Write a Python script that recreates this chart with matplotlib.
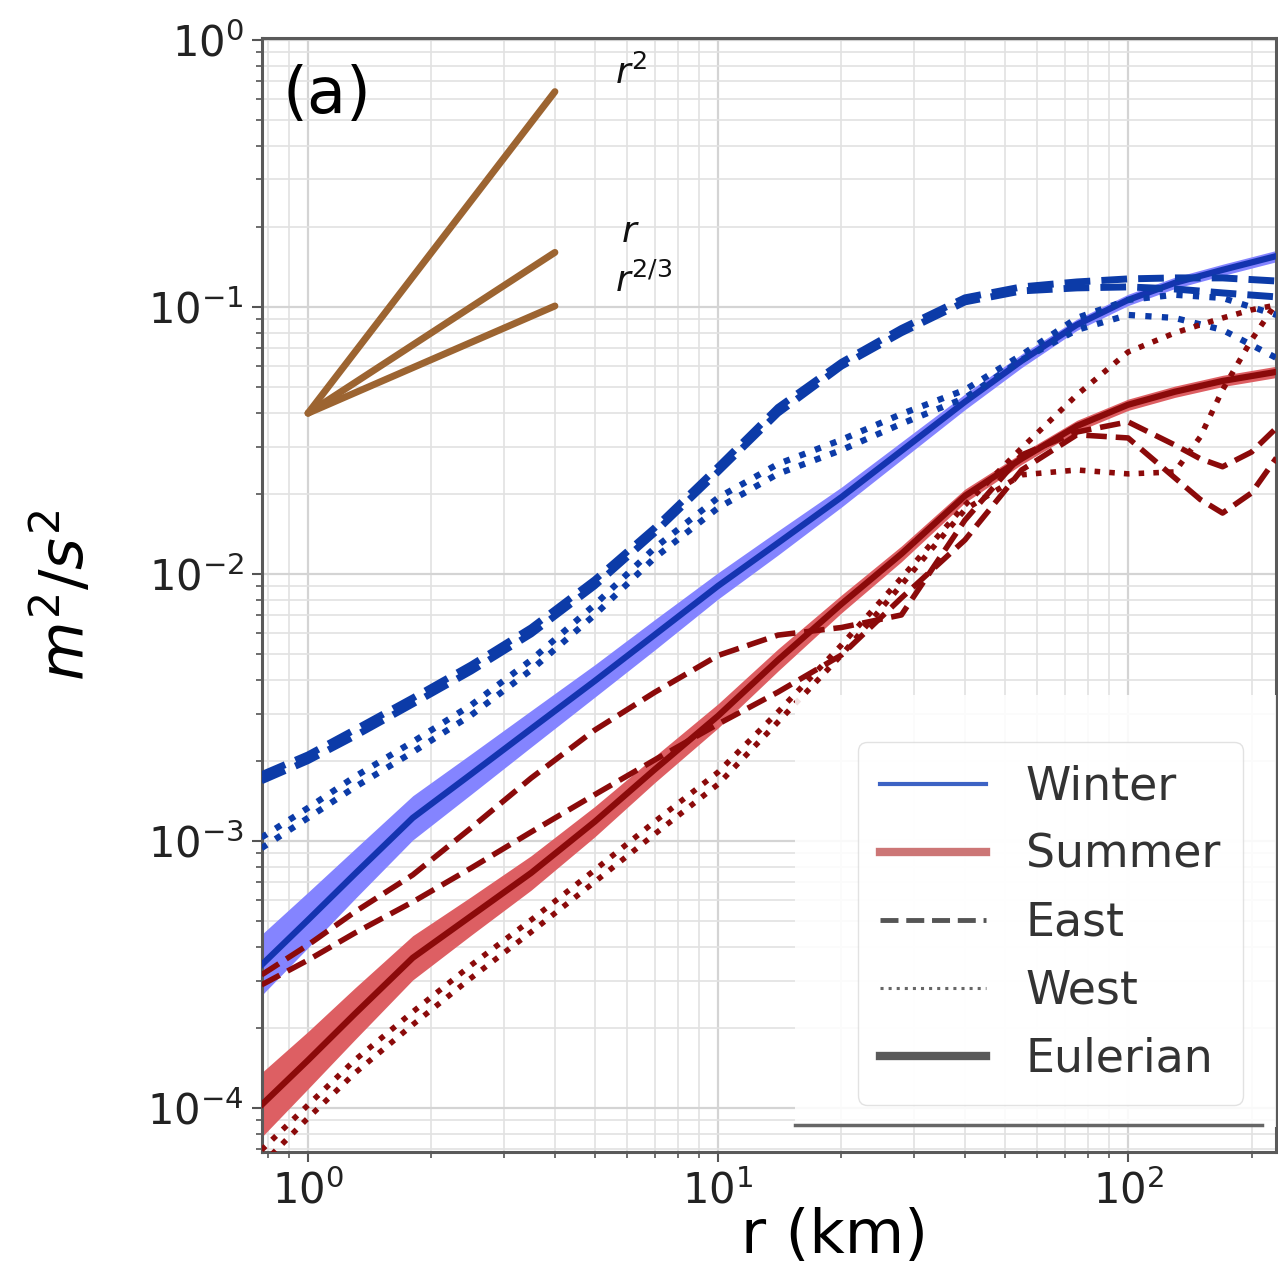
import numpy as np
import matplotlib
matplotlib.use("Agg")
import matplotlib.pyplot as plt
from matplotlib.lines import Line2D
from matplotlib.patches import Rectangle
from matplotlib.ticker import LogLocator, NullFormatter

#-----------------------------------------------------#
#                   DATA                              #
#-----------------------------------------------------#

# separation r (km)
r = [0.77, 1.0, 1.3, 1.8, 2.5, 3.5, 5, 7, 10, 14, 20, 28, 40, 55, 75, 100, 130, 170, 230]
r_red = [0.77, 1.0, 1.3, 1.8, 2.5, 3.5, 5, 7, 10, 14, 20, 28, 40, 55, 75, 100, 130, 150, 170, 200, 230]

# Winter (blue)
winter_eul = [3.43e-4, 5.06e-4, 7.52e-4, 1.22e-3, 1.78e-3, 2.63e-3, 3.97e-3, 5.91e-3, 9.02e-3,
              0.01306, 0.0194, 0.0289, 0.0441, 0.0628, 0.0857, 0.1062, 0.123, 0.1376, 0.155]
winter_band = [1.30, 1.27, 1.24, 1.21, 1.19, 1.17, 1.15, 1.14, 1.12, 1.11,
               1.09, 1.08, 1.07, 1.06, 1.05, 1.05, 1.05, 1.05, 1.05]
winter_east_a = [1.77e-3, 2.10e-3, 2.61e-3, 3.43e-3, 4.56e-3, 6.28e-3, 9.50e-3, 0.01487, 0.0252,
                 0.0420, 0.0620, 0.0830, 0.1081, 0.1188, 0.124, 0.1273, 0.1284, 0.1284, 0.125]
winter_east_b = [1.68e-3, 2.0e-3, 2.47e-3, 3.26e-3, 4.33e-3, 5.96e-3, 9.02e-3, 0.01425, 0.0241,
                 0.0400, 0.0600, 0.0800, 0.1044, 0.1148, 0.1178, 0.1188, 0.1167, 0.1128, 0.109]
winter_west_a = [1.03e-3, 1.33e-3, 1.74e-3, 2.35e-3, 3.23e-3, 4.76e-3, 7.66e-3, 0.0125, 0.0193,
                 0.0258, 0.0318, 0.0397, 0.0489, 0.0661, 0.0909, 0.1062, 0.111, 0.108, 0.0933]
winter_west_b = [9.4e-4, 1.22e-3, 1.59e-3, 2.15e-3, 2.96e-3, 4.37e-3, 7.02e-3, 0.01148, 0.01767,
                 0.0237, 0.0291, 0.0365, 0.0456, 0.0633, 0.0820, 0.0933, 0.0909, 0.0820, 0.0644]

# Summer (red)
summer_eul = [1.026e-4, 1.51e-4, 2.25e-4, 3.65e-4, 5.24e-4, 7.59e-4, 1.18e-3, 1.85e-3, 2.94e-3,
              4.76e-3, 7.72e-3, 0.01189, 0.0196, 0.0270, 0.0358, 0.0430, 0.0481, 0.0528, 0.0571]
summer_band = [1.32, 1.28, 1.25, 1.21, 1.18, 1.16, 1.14, 1.12, 1.11, 1.10,
               1.08, 1.07, 1.06, 1.05, 1.05, 1.05, 1.05, 1.05, 1.05]
summer_east_a = [3.15e-4, 4.08e-4, 5.42e-4, 7.46e-4, 1.12e-3, 1.72e-3, 2.60e-3, 3.60e-3, 4.95e-3,
                 5.90e-3, 6.30e-3, 7.02e-3, 0.0159, 0.0279, 0.0340, 0.0371, 0.0304, 0.0270, 0.0252,
                 0.0286, 0.0352]
summer_east_b = [2.89e-4, 3.58e-4, 4.52e-4, 5.91e-4, 7.92e-4, 1.08e-3, 1.49e-3, 2.01e-3, 2.74e-3,
                 3.61e-3, 4.97e-3, 8.13e-3, 0.0134, 0.0245, 0.0332, 0.0323, 0.0229, 0.0190, 0.0169,
                 0.0201, 0.0272]
summer_west_a = [6.96e-5, 1.026e-4, 1.51e-4, 2.29e-4, 3.43e-4, 5.06e-4, 7.78e-4, 1.18e-3, 1.81e-3,
                 3.04e-3, 5.42e-3, 9.66e-3, 0.0181, 0.0296, 0.0468, 0.0678, 0.0799, 0.0857, 0.0909,
                 0.0975, 0.1016]
summer_west_b = [6.12e-5, 9.18e-5, 1.35e-4, 2.05e-4, 3.07e-4, 4.56e-4, 7.02e-4, 1.06e-3, 1.63e-3,
                 2.79e-3, 4.97e-3, 9.10e-3, 0.0174, 0.0235, 0.0245, 0.0237, 0.0241, 0.0326, 0.0489,
                 0.0752, 0.1035]

# reference slopes
r_ref = [1.0, 4.0]
ref_start = 0.04
ref_powers = [2, 1, 2/3]
ref_labels = [r'$r^2$', r'$r$', r'$r^{2/3}$']
ref_label_pos = [(5.6, 0.75), (5.8, 0.19), (5.6, 0.125)]

legend_labels = ['Winter', 'Summer', 'East', 'West', 'Eulerian']

#-----------------------------------------------------#
#                   PLOTTING                          #
#-----------------------------------------------------#

blue = '#0c3ba8'
blue_solid = '#1434b0'
blue_band = '#8484ff'
red = '#8b0a0a'
red_band = '#dd5f63'
brown = '#9c6431'

fig = plt.figure(figsize=(12.78, 12.81), dpi=100)
ax = fig.add_axes([0.205, 0.1007, 0.7935, 0.8697])
ax.set_xscale('log')
ax.set_yscale('log')
ax.set_xlim(0.772, 229.6)
ax.set_ylim(6.84e-5, 1.017)

ax.set_axisbelow(True)
ax.grid(which='major', color='#d4d4d4', lw=1.6)
ax.grid(which='minor', color='#e2e2e2', lw=1.2)
ax.yaxis.set_minor_locator(LogLocator(base=10, subs=np.arange(2, 10), numticks=20))
ax.yaxis.set_minor_formatter(NullFormatter())
ax.xaxis.set_minor_locator(LogLocator(base=10, subs=np.arange(2, 10), numticks=20))
ax.xaxis.set_minor_formatter(NullFormatter())

for s in ax.spines.values():
    s.set_color('#5a5a5a')
    s.set_linewidth(2.2)
ax.tick_params(which='major', length=7, width=1.5, color='#555555', labelsize=30,
               labelcolor='#222222', pad=6)
ax.tick_params(axis='x', which='major', pad=6)
ax.tick_params(which='minor', length=4, width=1.2, color='#555555')

# Winter
ax.fill_between(r, np.array(winter_eul) / np.array(winter_band),
                np.array(winter_eul) * np.array(winter_band), color=blue_band, lw=0, zorder=2)
ax.plot(r, winter_eul, color=blue_solid, lw=4.5, zorder=3)
ax.plot(r, winter_east_a, color=blue, lw=5, ls='--', zorder=3)
ax.plot(r, winter_east_b, color=blue, lw=5, ls='--', zorder=3)
ax.plot(r, winter_west_a, color=blue, lw=4.5, ls=':', zorder=3)
ax.plot(r, winter_west_b, color=blue, lw=4.5, ls=':', zorder=3)

# Summer
ax.fill_between(r, np.array(summer_eul) / np.array(summer_band),
                np.array(summer_eul) * np.array(summer_band), color=red_band, lw=0, zorder=2)
ax.plot(r, summer_eul, color=red, lw=4.5, zorder=3)
ax.plot(r_red, summer_east_a, color=red, lw=4, ls='--', zorder=3)
ax.plot(r_red, summer_east_b, color=red, lw=4, ls='--', zorder=3)
ax.plot(r_red, summer_west_a, color=red, lw=4, ls=':', zorder=3)
ax.plot(r_red, summer_west_b, color=red, lw=4, ls=':', zorder=3)

# slope lines
for p, lab, pos in zip(ref_powers, ref_labels, ref_label_pos):
    ax.plot(r_ref, [ref_start * x ** p for x in r_ref], color=brown, lw=5, zorder=4,
            solid_capstyle='round')
    ax.text(pos[0], pos[1], lab, fontsize=26, ha='left', va='center', color='#111111')

ax.text(0.02, 0.949, '(a)', transform=ax.transAxes, fontsize=46, ha='left', va='center')

# pasted legend panel
ax.add_patch(Rectangle((0.5257, 0.0224), 0.48, 0.388, transform=ax.transAxes,
                       facecolor='white', edgecolor='none', alpha=0.88, zorder=5))
ax.plot([0.5257, 0.986], [0.024, 0.024], transform=ax.transAxes, color='#666666',
        lw=2.5, zorder=6, clip_on=False)

handles = [Line2D([], [], color='#3d63c4', lw=3),
           Line2D([], [], color='#cc7676', lw=6),
           Line2D([], [], color='#555555', lw=3.5, ls='--'),
           Line2D([], [], color='#666666', lw=2.2, ls=':'),
           Line2D([], [], color='#5a5a5a', lw=6)]
leg = ax.legend(handles, legend_labels, loc='lower right', bbox_to_anchor=(0.99, 0.022),
                fontsize=33, handlelength=2.3, handletextpad=0.87, labelspacing=0.5,
                borderpad=0.5, framealpha=0.85, edgecolor='#dddddd', fancybox=True)
leg.set_zorder(7)
for t in leg.get_texts():
    t.set_color('#333333')

ax.set_xlabel('r (km)', fontsize=44)
ax.xaxis.set_label_coords(0.565, -0.049)
fig.text(65 / 1278, 1 - 595 / 1281, r'$m^2/s^2$', rotation=90, fontsize=44,
         ha='center', va='center')

plt.savefig('out.png', dpi=100)
print("Done!")
